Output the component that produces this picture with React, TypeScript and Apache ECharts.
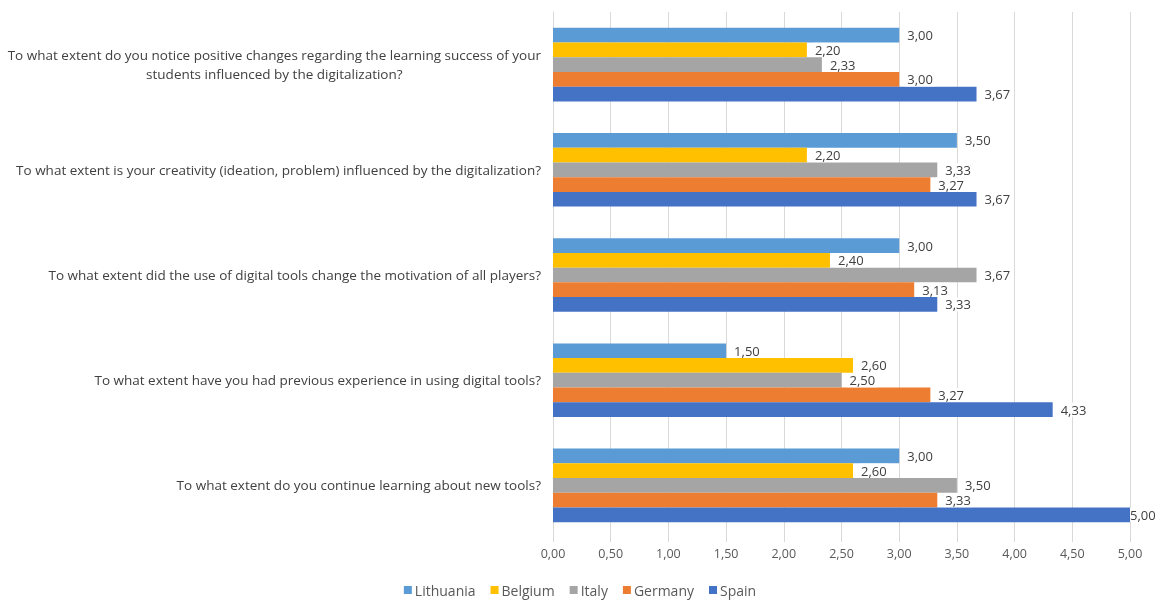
import React, { useEffect, useRef } from "react";
import * as echarts from "echarts";

const categories = [
  "To what extent do you notice positive changes regarding the learning success of your\nstudents influenced by the digitalization?",
  "To what extent is your creativity (ideation, problem) influenced by the digitalization?",
  "To what extent did the use of digital tools change the motivation of all players?",
  "To what extent have you had previous experience in using digital tools?",
  "To what extent do you continue learning about new tools?",
];

const seriesNames = ["Lithuania", "Belgium", "Italy", "Germany", "Spain"];
const seriesColors = ["#5b9bd5", "#ffc000", "#a5a5a5", "#ed7d31", "#4472c4"];

const lithuania = [3.0, 3.5, 3.0, 1.5, 3.0];
const belgium = [2.2, 2.2, 2.4, 2.6, 2.6];
const italy = [2.33, 3.33, 3.67, 2.5, 3.5];
const germany = [3.0, 3.27, 3.13, 3.27, 3.33];
const spain = [3.67, 3.67, 3.33, 4.33, 5.0];

const seriesData = [lithuania, belgium, italy, germany, spain];

const AXIS_MAX = 5;
const FONT = "Open Sans";
const fmt = (v: number) => v.toFixed(2).replace(".", ",");

export default function App() {
  const ref = useRef<HTMLDivElement>(null);
  useEffect(() => {
    if (!ref.current) return;
    const chart = echarts.init(ref.current, undefined, { renderer: "svg" });
    chart.setOption({
      animation: false,
      textStyle: { fontFamily: FONT },
      legend: {
        data: seriesNames,
        top: 583,
        padding: 0,
        left: "center",
        itemWidth: 8,
        itemHeight: 8,
        itemGap: 15,
        icon: "rect",
        textStyle: { fontFamily: FONT, fontSize: 14, color: "#595959", padding: [0, 0, 0, -2] },
      },
      grid: { left: 553, right: 30, top: 12, bottom: 62, containLabel: false },
      xAxis: {
        type: "value",
        min: 0,
        max: AXIS_MAX,
        interval: 0.5,
        axisLine: { show: false },
        axisTick: { show: true, length: 4, lineStyle: { color: "#d9d9d9" } },
        splitLine: { show: true, lineStyle: { color: "#d9d9d9" } },
        axisLabel: {
          formatter: (v: number) => fmt(v),
          color: "#595959",
          fontSize: 12.5,
          fontFamily: FONT,
          margin: 9,
        },
      },
      yAxis: {
        type: "category",
        data: categories,
        inverse: true,
        axisLine: { show: true, lineStyle: { color: "#d9d9d9" } },
        axisTick: { show: false },
        axisLabel: {
          margin: 12,
          align: "right",
          formatter: (v: string) =>
            v
              .split("\n")
              .map((l) => "{a|" + l + "}")
              .join("\n"),
          rich: {
            a: {
              align: "center",
              fontSize: 13.5,
              fontFamily: FONT,
              color: "#404040",
              lineHeight: 19,
            },
          },
        },
      },
      series: seriesNames.map((name, i) => ({
        name,
        type: "bar",
        data: seriesData[i].map((v) =>
          v >= AXIS_MAX ? { value: v, label: { distance: 0, padding: 0 } } : v
        ),
        barGap: "0%",
        barCategoryGap: "30%",
        itemStyle: { color: seriesColors[i] },
        label: {
          show: true,
          position: "right",
          distance: 6,
          formatter: (p: any) => fmt(p.value),
          color: "#404040",
          fontSize: 13,
          fontFamily: FONT,
          lineHeight: 14,
          backgroundColor: "#ffffff",
          padding: [0, 2, 0, 2],
        },
      })),
    });
    return () => chart.dispose();
  }, []);
  return (
    <div
      ref={ref}
      style={{ position: "fixed", left: 0, top: 0, width: 1160, height: 600 }}
    />
  );
}
